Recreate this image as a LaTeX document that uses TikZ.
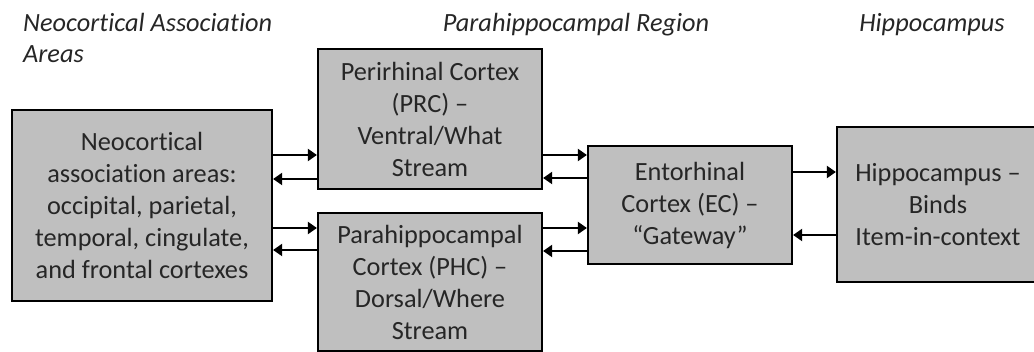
\documentclass[tikz,border=0pt]{standalone}
\usepackage{fontspec}
\setmainfont[Ligatures=NoCommon]{Carlito}
\usetikzlibrary{arrows.meta}
\definecolor{boxgray}{HTML}{BFBFBF}
\definecolor{txt}{HTML}{262626}
\tikzset{
  region/.style={draw=black, line width=2.2pt, fill=boxgray, text=txt, align=center,
    inner sep=0pt, font=\fontsize{26.3}{32}\selectfont},
  header/.style={text=txt, inner sep=0pt, font=\fontsize{26.3}{31}\selectfont\itshape},
  link/.style={line width=2pt, -{Triangle[length=9pt,width=12pt]}}
}
\begin{document}
\begin{tikzpicture}[x=1pt,y=-1pt]
\useasboundingbox (0,0) rectangle (1034,352);
% headers
\node[header, anchor=north west, align=left] (hA) at (23,13) {Neocortical Association\\Areas};
\node[header, anchor=base] (hB) at (576,32) {Parahippocampal Region};
\node[header, anchor=base] (hC) at (932,32) {Hippocampus};
% boxes
\node[region, minimum width=260pt, minimum height=191pt] (L) at (142,205.5)
  {Neocortical\\association areas:\\occipital, parietal,\\temporal, cingulate,\\and frontal cortexes};
\node[region, minimum width=224pt, minimum height=140pt] (PRC) at (430,119)
  {Perirhinal Cortex\\(PRC) –\\Ventral/What\\Stream};
\node[region, minimum width=224pt, minimum height=138pt] (PHC) at (430,282)
  {Parahippocampal\\Cortex (PHC) –\\Dorsal/Where\\Stream};
\node[region, minimum width=204pt, minimum height=118pt] (EC) at (690,205)
  {Entorhinal\\Cortex (EC) –\\“Gateway”};
\node[region, minimum width=202pt, minimum height=155pt] (H) at (938,204.5)
  {Hippocampus –\\Binds\\Item-in-context};
% connectors
\draw[link] (L.east |- 0,155) -- (PRC.west |- 0,155);
\draw[link] (PRC.west |- 0,179) -- (L.east |- 0,179);
\draw[link] (L.east |- 0,228) -- (PHC.west |- 0,228);
\draw[link] (PHC.west |- 0,250) -- (L.east |- 0,250);
\draw[link] (PRC.east |- 0,155) -- (EC.west |- 0,155);
\draw[link] (EC.west |- 0,178) -- (PRC.east |- 0,178);
\draw[link] (PHC.east |- 0,228) -- (EC.west |- 0,228);
\draw[link] (EC.west |- 0,251) -- (PHC.east |- 0,251);
\draw[link] (EC.east |- 0,172) -- (H.west |- 0,172);
\draw[link] (H.west |- 0,235) -- (EC.east |- 0,235);
\end{tikzpicture}
\end{document}
